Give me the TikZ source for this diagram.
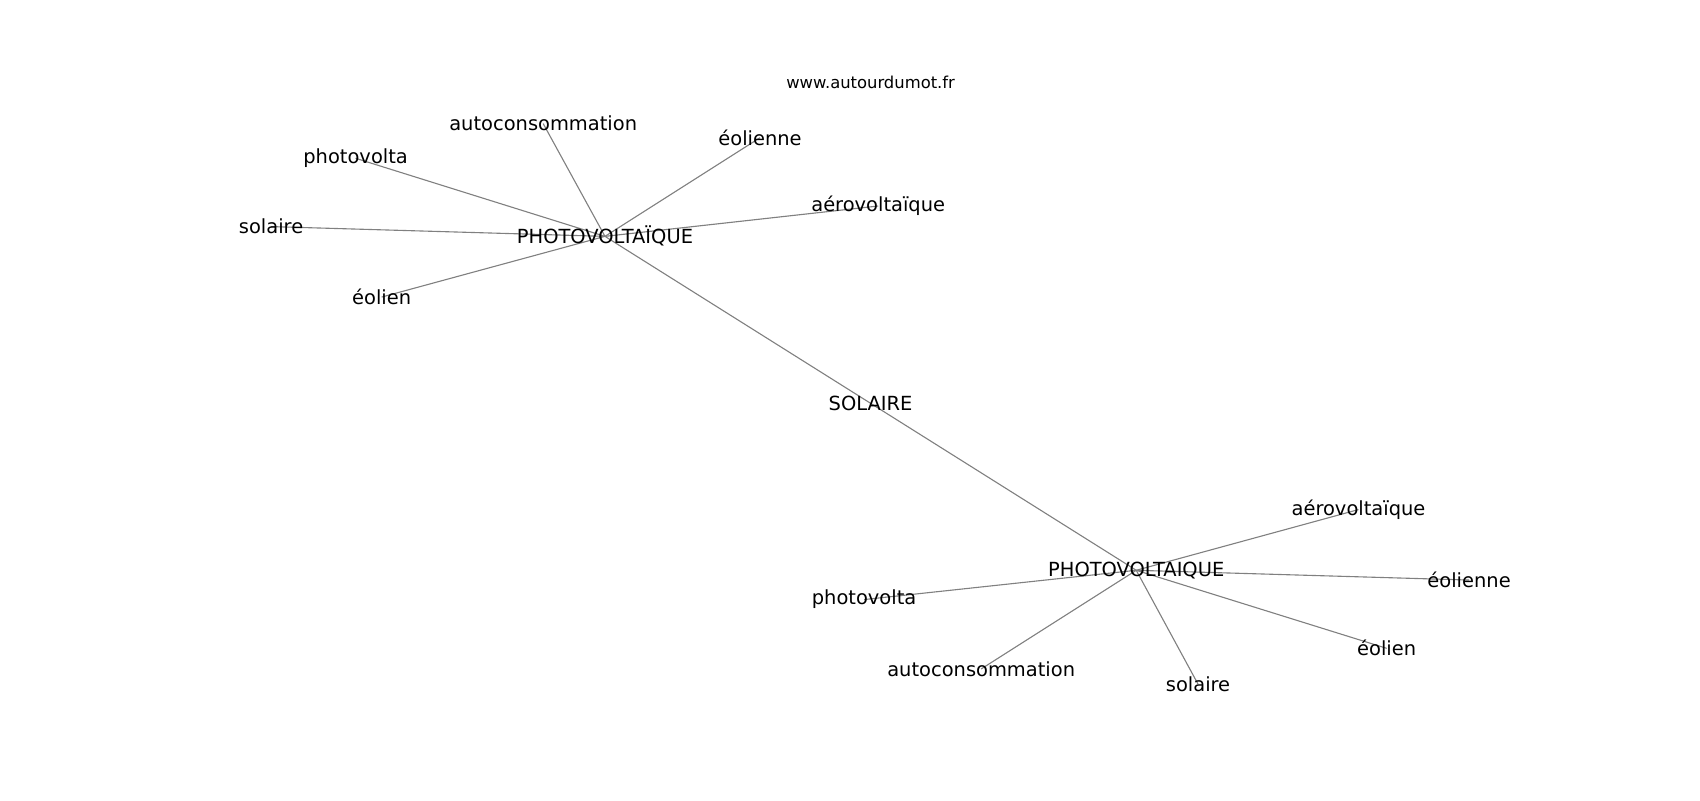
\documentclass[tikz,border=0pt]{standalone}
\usepackage{fontspec}
\setmainfont{DejaVu Sans}
\begin{document}
\begin{tikzpicture}[x=0.7806pt,y=-0.7806pt,
  lbl/.style={inner sep=0pt,font=\fontsize{14}{16}\selectfont},
  wm/.style={inner sep=0pt,font=\fontsize{11.8}{14}\selectfont},
  edge/.style={draw=gray,line width=0.8pt}]
\useasboundingbox (0,0) rectangle (1568,738);
\coordinate (h1) at (558,218);
\coordinate (h2) at (1048,526);
\coordinate (s) at (803,372);
\coordinate (a1) at (501,114);
\coordinate (b1) at (701,127);
\coordinate (c1) at (328,146);
\coordinate (d1) at (810,190);
\coordinate (e1) at (250,209);
\coordinate (f1) at (352,274);
\coordinate (a2) at (1253,470);
\coordinate (b2) at (1355,535);
\coordinate (c2) at (797,553);
\coordinate (d2) at (1279,598);
\coordinate (e2) at (905,617);
\coordinate (f2) at (1105,631);
\foreach \n in {a1,b1,c1,d1,e1,f1,s}{\draw[edge] (h1) -- (\n);}
\foreach \n in {a2,b2,c2,d2,e2,f2,s}{\draw[edge] (h2) -- (\n);}
\node[wm] (w) at (803,76) {www.autourdumot.fr};
\node[lbl] (H1) at (h1) {PHOTOVOLTAÏQUE};
\node[lbl] (H2) at (h2) {PHOTOVOLTAIQUE};
\node[lbl] (S) at (s) {SOLAIRE};
\node[lbl] (A1) at (a1) {autoconsommation};
\node[lbl] (B1) at (b1) {éolienne};
\node[lbl] (C1) at (c1) {photovolta};
\node[lbl] (D1) at (d1) {aérovoltaïque};
\node[lbl] (E1) at (e1) {solaire};
\node[lbl] (F1) at (f1) {éolien};
\node[lbl] (A2) at (a2) {aérovoltaïque};
\node[lbl] (B2) at (b2) {éolienne};
\node[lbl] (C2) at (c2) {photovolta};
\node[lbl] (D2) at (d2) {éolien};
\node[lbl] (E2) at (e2) {autoconsommation};
\node[lbl] (F2) at (f2) {solaire};
\end{tikzpicture}
\end{document}
